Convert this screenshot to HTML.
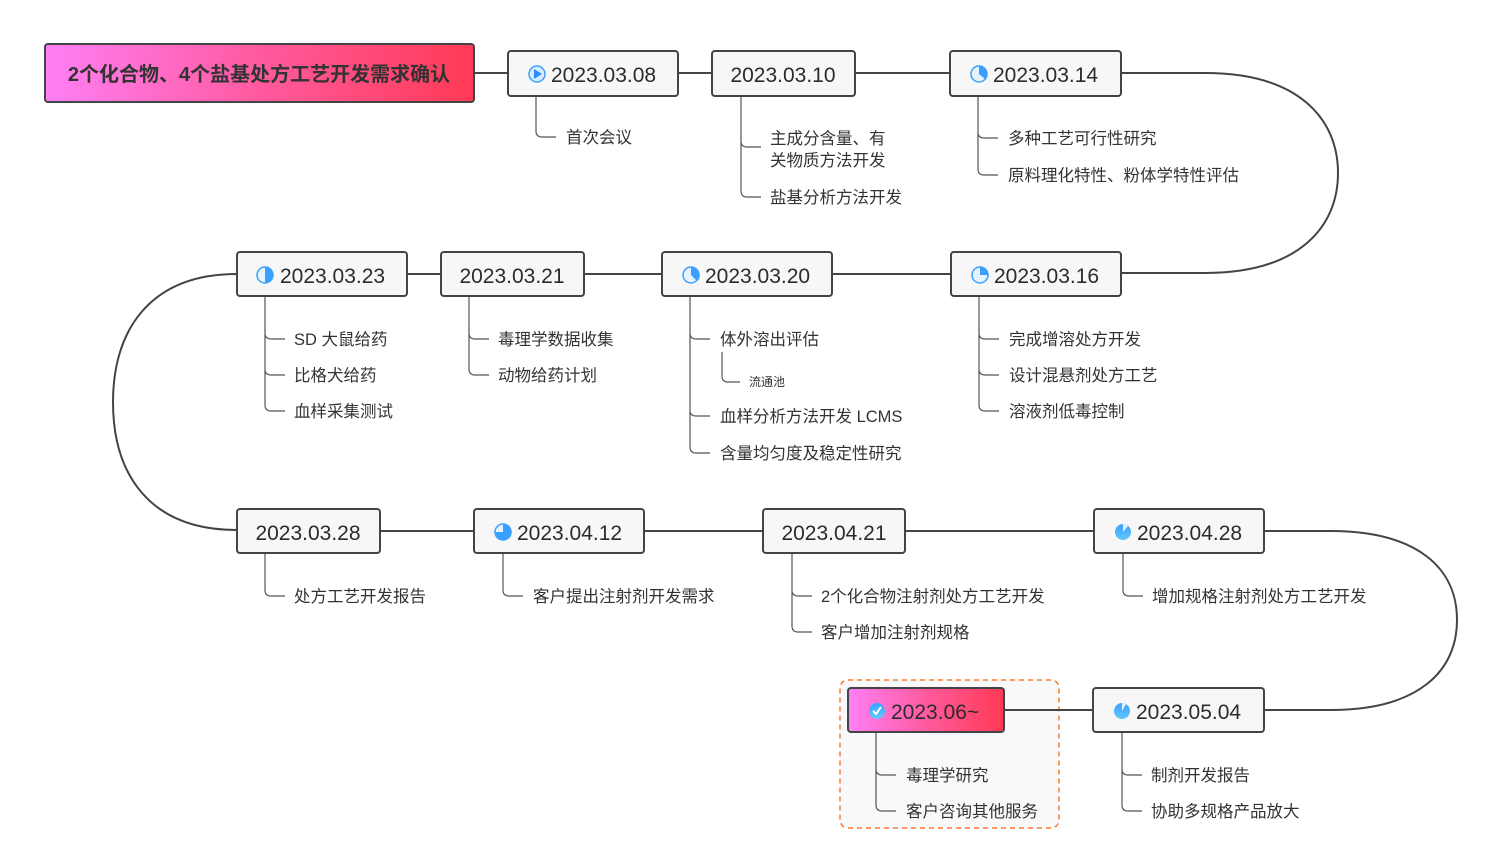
<!DOCTYPE html>
<html><head><meta charset="utf-8"><style>
html,body{margin:0;padding:0;background:#fff;width:1502px;height:863px;overflow:hidden}
svg text{font-family:"Liberation Sans","Noto Sans CJK SC",sans-serif;fill:#333}
.d{font-size:21px;fill:#2b2b2b}
.c{font-size:16.5px}
</style></head><body>
<svg width="1502" height="863" viewBox="0 0 1502 863" xmlns="http://www.w3.org/2000/svg">
<defs>
<linearGradient id="g" x1="0" x2="1" y1="0" y2="0"><stop offset="0" stop-color="#ff7ff5"/><stop offset="0.5" stop-color="#ff5a9e"/><stop offset="1" stop-color="#ff3a55"/></linearGradient>
<linearGradient id="ib" x1="0" x2="0" y1="0" y2="1"><stop offset="0" stop-color="#3aa0ff"/><stop offset="1" stop-color="#63c7ff"/></linearGradient>
</defs>
<rect x="840" y="680" width="219" height="148" rx="8" fill="#f8f9fb" stroke="#ff7a2a" stroke-width="1.5" stroke-dasharray="5,4"/>
<g fill="none" stroke="#444" stroke-width="2">
<path d="M474 73 H508 M678 73 H712 M855 73 H950"/>
<path d="M1121 73 H1205 C1300 73 1338 120 1338 173 C1338 226 1300 273 1205 273 H1121"/>
<path d="M407 274 H441 M584 274 H662 M832 274 H951"/>
<path d="M237 274 C150 274 113 330 113 402 C113 475 150 530 237 530"/>
<path d="M380 531 H474 M644 531 H763 M905 531 H1094"/>
<path d="M1264 531 H1330 C1420 531 1457 570 1457 620 C1457 670 1420 710 1330 710 H1264"/>
<path d="M1004 710 H1093"/>
</g>
<g fill="none" stroke="#555" stroke-width="1.2">
<path d="M536 96 V131 Q536 137 542 137 H556"/>
<path d="M741 96 V141 Q741 147 747 147 H761 M741 141 V191 Q741 197 747 197 H761"/>
<path d="M978 96 V132 Q978 138 984 138 H998 M978 132 V169 Q978 175 984 175 H998"/>
<path d="M265 296 V333 Q265 339 271 339 H285 M265 333 V369 Q265 375 271 375 H285 M265 369 V405 Q265 411 271 411 H285"/>
<path d="M469 296 V333 Q469 339 475 339 H489 M469 333 V369 Q469 375 475 375 H489"/>
<path d="M690 296 V333 Q690 339 696 339 H710 M690 333 V410 Q690 416 696 416 H710 M690 410 V447 Q690 453 696 453 H710"/>
<path d="M722 352 V376 Q722 382 728 382 H740"/>
<path d="M979 296 V333 Q979 339 985 339 H999 M979 333 V369 Q979 375 985 375 H999 M979 369 V405 Q979 411 985 411 H999"/>
<path d="M265 553 V590 Q265 596 271 596 H285"/>
<path d="M503 553 V590 Q503 596 509 596 H523"/>
<path d="M792 553 V590 Q792 596 798 596 H812 M792 590 V626 Q792 632 798 632 H812"/>
<path d="M1123 553 V590 Q1123 596 1129 596 H1143"/>
<path d="M876 732 V769 Q876 775 882 775 H896 M876 769 V805 Q876 811 882 811 H896"/>
<path d="M1122 732 V769 Q1122 775 1128 775 H1142 M1122 769 V805 Q1122 811 1128 811 H1142"/>
</g>
<g stroke="#444" stroke-width="2">
<rect x="45" y="44" width="429" height="58" rx="3" fill="url(#g)"/>
<rect x="508" y="51" width="170" height="45" rx="3" fill="#f7f7f7"/>
<rect x="712" y="51" width="143" height="45" rx="3" fill="#f7f7f7"/>
<rect x="950" y="51" width="171" height="45" rx="3" fill="#f7f7f7"/>
<rect x="237" y="252" width="170" height="44" rx="3" fill="#f7f7f7"/>
<rect x="441" y="252" width="143" height="44" rx="3" fill="#f7f7f7"/>
<rect x="662" y="252" width="170" height="44" rx="3" fill="#f7f7f7"/>
<rect x="951" y="252" width="170" height="44" rx="3" fill="#f7f7f7"/>
<rect x="237" y="509" width="143" height="44" rx="3" fill="#f7f7f7"/>
<rect x="474" y="509" width="170" height="44" rx="3" fill="#f7f7f7"/>
<rect x="763" y="509" width="142" height="44" rx="3" fill="#f7f7f7"/>
<rect x="1094" y="509" width="170" height="44" rx="3" fill="#f7f7f7"/>
<rect x="848" y="688" width="156" height="44" rx="3" fill="url(#g)"/>
<rect x="1093" y="688" width="171" height="44" rx="3" fill="#f7f7f7"/>
</g>
<g>
<circle cx="537" cy="74" r="8" fill="#d8ecff" stroke="#3aa0ff" stroke-width="1.5"/><path d="M534 69 L542 74 L534 79 Z" fill="#2b8cff"/>
<circle cx="979" cy="74" r="8" fill="#e6f3ff" stroke="#3aa0ff" stroke-width="1.5"/><path d="M979 74 V66 A8 8 0 0 1 985 79 Z" fill="#3aa0ff"/>
<circle cx="980" cy="275" r="8" fill="#e6f3ff" stroke="#3aa0ff" stroke-width="1.5"/><path d="M980 275 V267 A8 8 0 0 1 988 275 Z" fill="#3aa0ff"/>
<circle cx="691" cy="275" r="8" fill="#e6f3ff" stroke="#3aa0ff" stroke-width="1.5"/><path d="M691 275 V267 A8 8 0 0 1 697 281 Z" fill="#3aa0ff"/>
<circle cx="265" cy="275" r="8" fill="#e6f3ff" stroke="#3aa0ff" stroke-width="1.5"/><path d="M265 267 A8 8 0 0 1 265 283 Z" fill="#3aa0ff"/>
<circle cx="503" cy="532" r="8" fill="#e6f3ff" stroke="#3aa0ff" stroke-width="1.5"/><path d="M503 532 V524 A8 8 0 1 1 495 532 Z" fill="#3aa0ff"/>
<circle cx="1123" cy="532" r="8" fill="url(#ib)"/><path d="M1123 532 V524 A8 8 0 0 1 1128 526 Z" fill="#e6f3ff"/>
<circle cx="1122" cy="711" r="8" fill="url(#ib)"/><path d="M1122 711 V703 A8 8 0 0 1 1126 704 Z" fill="#e6f3ff"/>
<circle cx="877" cy="711" r="8" fill="url(#ib)"/><path d="M873 711 L876 714 L881 707" fill="none" stroke="#fff" stroke-width="2"/>
</g>
<text x="259" y="81" text-anchor="middle" style="font-size:20px;font-weight:600;fill:#333">2个化合物、4个盐基处方工艺开发需求确认</text>
<text x="551" y="82" class="d">2023.03.08</text>
<text x="783" y="82" class="d" text-anchor="middle">2023.03.10</text>
<text x="993" y="82" class="d">2023.03.14</text>
<text x="280" y="283" class="d">2023.03.23</text>
<text x="512" y="283" class="d" text-anchor="middle">2023.03.21</text>
<text x="705" y="283" class="d">2023.03.20</text>
<text x="994" y="283" class="d">2023.03.16</text>
<text x="308" y="540" class="d" text-anchor="middle">2023.03.28</text>
<text x="517" y="540" class="d">2023.04.12</text>
<text x="834" y="540" class="d" text-anchor="middle">2023.04.21</text>
<text x="1137" y="540" class="d">2023.04.28</text>
<text x="891" y="719" class="d">2023.06~</text>
<text x="1136" y="719" class="d">2023.05.04</text>
<g>
<text x="566" y="143" class="c">首次会议</text>
<text x="770" y="144" class="c">主成分含量、有</text>
<text x="770" y="166" class="c">关物质方法开发</text>
<text x="770" y="203" class="c">盐基分析方法开发</text>
<text x="1008" y="144" class="c">多种工艺可行性研究</text>
<text x="1008" y="181" class="c">原料理化特性、粉体学特性评估</text>
<text x="294" y="345" class="c">SD 大鼠给药</text>
<text x="294" y="381" class="c">比格犬给药</text>
<text x="294" y="417" class="c">血样采集测试</text>
<text x="498" y="345" class="c">毒理学数据收集</text>
<text x="498" y="381" class="c">动物给药计划</text>
<text x="720" y="345" class="c">体外溶出评估</text>
<text x="749" y="386" style="font-size:12px">流通池</text>
<text x="720" y="422" class="c">血样分析方法开发 LCMS</text>
<text x="720" y="459" class="c">含量均匀度及稳定性研究</text>
<text x="1009" y="345" class="c">完成增溶处方开发</text>
<text x="1009" y="381" class="c">设计混悬剂处方工艺</text>
<text x="1009" y="417" class="c">溶液剂低毒控制</text>
<text x="294" y="602" class="c">处方工艺开发报告</text>
<text x="533" y="602" class="c">客户提出注射剂开发需求</text>
<text x="821" y="602" class="c">2个化合物注射剂处方工艺开发</text>
<text x="821" y="638" class="c">客户增加注射剂规格</text>
<text x="1152" y="602" class="c">增加规格注射剂处方工艺开发</text>
<text x="906" y="781" class="c">毒理学研究</text>
<text x="906" y="817" class="c">客户咨询其他服务</text>
<text x="1151" y="781" class="c">制剂开发报告</text>
<text x="1151" y="817" class="c">协助多规格产品放大</text>
</g>
</svg>
</body></html>
